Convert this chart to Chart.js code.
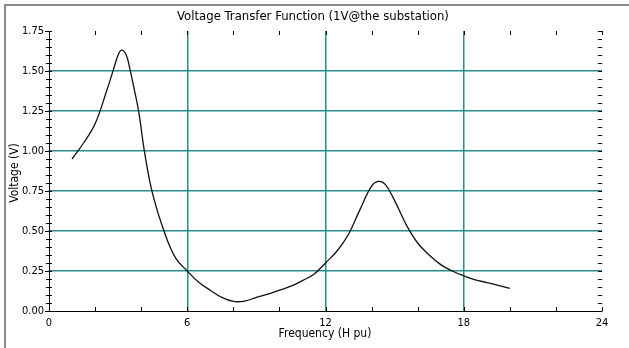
<!DOCTYPE html>
<html>
<head>
<meta charset="utf-8">
<script src="https://cdn.jsdelivr.net/npm/chart.js@4"></script>
<style>
  html, body { margin: 0; padding: 0; background: #fff; }
  canvas { display: block; }
</style>
</head>
<body>
<canvas id="vtf" width="629" height="348"></canvas>
<script>
// frequency in harmonic pu, voltage in V
const freq = [1.0, 1.5, 2.0, 2.5, 2.8, 3.0, 3.15, 3.35, 3.5, 3.7, 3.9, 4.15, 4.5, 5.0, 5.5,
  6.0, 6.5, 7.0, 7.5, 8.0, 8.5, 9.0, 9.5, 10.0, 10.5, 11.0, 11.5, 12.0, 12.5, 13.0,
  13.5, 14.0, 14.3, 14.6, 15.0, 15.5, 16.0, 16.5, 17.0, 17.5, 18.0, 18.5, 19.0, 19.5, 20.0];
const voltage = [0.95, 1.05, 1.17, 1.375, 1.51, 1.60, 1.63, 1.60, 1.52, 1.385, 1.24, 0.99, 0.73, 0.495, 0.33,
  0.25, 0.18, 0.13, 0.085, 0.06, 0.062, 0.085, 0.105, 0.13, 0.155, 0.19, 0.23, 0.30, 0.375, 0.48,
  0.635, 0.78, 0.81, 0.79, 0.69, 0.54, 0.425, 0.35, 0.29, 0.25, 0.22, 0.195, 0.178, 0.16, 0.142];

const xLabels = [0, 6, 12, 18, 24];
const yLabels = [0, 0.25, 0.5, 0.75, 1.0, 1.25, 1.5, 1.75];

const FONT = "'Liberation Sans Narrow', 'DejaVu Sans Condensed', sans-serif";
const TEAL = '#2a8c8c';

const isMult = (v, s) => Math.abs(v / s - Math.round(v / s)) < 1e-6;

// frame, titles and the little inward tick marks
const decor = {
  id: 'decor',
  beforeDraw(chart) {
    const c = chart.ctx;
    c.save();
    c.strokeStyle = '#8a8a8a';
    c.lineWidth = 2;
    c.beginPath();
    c.moveTo(5, 348); c.lineTo(5, 5); c.lineTo(629, 5);
    c.stroke();
    c.restore();
  },
  afterDraw(chart) {
    const c = chart.ctx;
    const a = chart.chartArea;
    const xs = chart.scales.x, ys = chart.scales.y;
    c.save();
    c.strokeStyle = '#000';
    c.lineWidth = 1;
    c.beginPath();
    xs.ticks.forEach(t => {
      const px = Math.round(xs.getPixelForValue(t.value)) + 0.5;
      c.moveTo(px, a.bottom); c.lineTo(px, a.bottom - 4);
      c.moveTo(px, a.top); c.lineTo(px, a.top + 4);
    });
    ys.ticks.forEach(t => {
      const py = Math.round(ys.getPixelForValue(t.value)) + 0.5;
      const major = isMult(t.value, 0.25);
      c.moveTo(a.left - (major ? 4 : 3), py); c.lineTo(a.left + 3, py);
      c.moveTo(a.right, py); c.lineTo(a.right - 4, py);
    });
    c.stroke();

    c.fillStyle = '#000';
    c.font = '13px ' + FONT;
    c.textAlign = 'center';
    c.textBaseline = 'middle';
    c.fillText('Voltage Transfer Function (1V@the substation)', 313, 17);
    c.font = '12px ' + FONT;
    c.fillText('Frequency (H pu)', 325, 334);
    c.translate(15, 173);
    c.rotate(-Math.PI / 2);
    c.fillText('Voltage (V)', 0, 0);
    c.restore();
  }
};

new Chart(document.getElementById('vtf'), {
  type: 'line',
  data: {
    datasets: [{
      data: freq.map((f, i) => ({ x: f, y: voltage[i] })),
      borderColor: '#111',
      borderWidth: 1.3,
      pointRadius: 0,
      tension: 0.4,
      fill: false
    }]
  },
  options: {
    responsive: false,
    animation: false,
    layout: { padding: { top: 31, right: 27, bottom: 0, left: 0 } },
    plugins: { legend: { display: false }, tooltip: { enabled: false } },
    scales: {
      x: {
        type: 'linear',
        min: 0, max: 24,
        afterFit: s => { s.height = 37; },
        border: { display: true, color: '#000', width: 1 },
        grid: {
          drawTicks: false,
          lineWidth: 1.5,
          color: ctx => (ctx.tick && ctx.tick.value > 0 && ctx.tick.value < 24 && isMult(ctx.tick.value, 6)) ? TEAL : 'rgba(0,0,0,0)'
        },
        ticks: {
          stepSize: 2,
          maxTicksLimit: 100,
          autoSkip: false,
          maxRotation: 0,
          padding: 6,
          color: '#000',
          font: { family: FONT, size: 11 },
          callback: v => xLabels.some(l => Math.abs(l - v) < 1e-6) ? String(v) : ''
        }
      },
      y: {
        min: 0, max: 1.75,
        afterFit: s => { s.width = 49; },
        border: { display: true, color: '#000', width: 1 },
        grid: {
          drawTicks: false,
          lineWidth: 1.5,
          color: ctx => (ctx.tick && ctx.tick.value > 0.01 && ctx.tick.value < 1.74 && isMult(ctx.tick.value, 0.25)) ? TEAL : 'rgba(0,0,0,0)'
        },
        ticks: {
          stepSize: 0.05,
          maxTicksLimit: 100,
          autoSkip: false,
          padding: 5,
          color: '#000',
          font: { family: FONT, size: 11 },
          callback: v => yLabels.some(l => Math.abs(l - v) < 1e-6) ? v.toFixed(2) : ''
        }
      }
    }
  },
  plugins: [decor]
});
</script>
</body>
</html>
